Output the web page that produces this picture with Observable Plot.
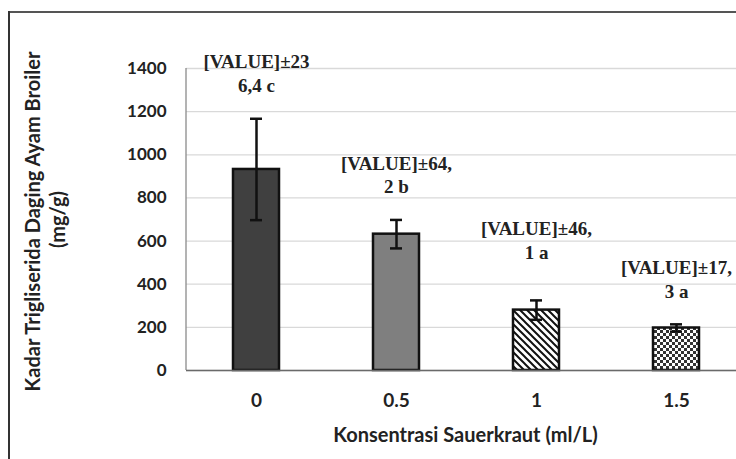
<!DOCTYPE html>
<html>
<head>
<meta charset="utf-8">
<script src="https://cdn.jsdelivr.net/npm/d3@7"></script>
<script src="https://cdn.jsdelivr.net/npm/@observablehq/plot@0.6"></script>
<style>
  html, body { margin: 0; padding: 0; background: #fff; overflow: hidden; }
  #wrap { position: relative; width: 736px; height: 459px; overflow: hidden; }
  svg.plot { overflow: hidden !important; display: block; }
</style>
</head>
<body>
<div id="wrap"></div>
<script>
const categories = ["0", "0.5", "1", "1.5"];
const means = [932, 632, 280, 197];
const errors = [235, 66, 45, 17];
const labelLine1 = ["[VALUE]±23", "[VALUE]±64,", "[VALUE]±46,", "[VALUE]±17,"];
const labelLine2 = ["6,4 c", "2 b", "1 a", "3 a"];
const yTicks = [0, 200, 400, 600, 800, 1000, 1200, 1400];
const yTitle = "Kadar Trigliserida Daging Ayam Broiler";
const yUnit = "(mg/g)";
const xTitle = "Konsentrasi Sauerkraut (ml/L)";

const data = categories.map((c, i) => ({
  cat: c, mean: means[i], err: errors[i],
  lo: means[i] - errors[i], hi: means[i] + errors[i],
  label: labelLine1[i] + "\n" + labelLine2[i]
}));

const fills = ["#404040", "#7f7f7f", "url(#hatch)", "url(#checker)"];

const defs = () => {
  const svg = d3.create("svg:g");
  const d = svg.append("defs");
  const h = d.append("pattern").attr("id", "hatch").attr("patternUnits", "userSpaceOnUse")
    .attr("width", 7).attr("height", 7);
  h.append("rect").attr("width", 7).attr("height", 7).attr("fill", "#fff");
  h.append("path").attr("d", "M0,0L7,7M-1,6L1,8M6,-1L8,1")
    .attr("stroke", "#111").attr("stroke-width", 2);
  const c = d.append("pattern").attr("id", "checker").attr("patternUnits", "userSpaceOnUse")
    .attr("width", 6).attr("height", 6);
  c.append("rect").attr("width", 6).attr("height", 6).attr("fill", "#fff");
  c.append("rect").attr("width", 3).attr("height", 3).attr("fill", "#333");
  c.append("rect").attr("x", 3).attr("y", 3).attr("width", 3).attr("height", 3).attr("fill", "#333");
  return svg.node();
};

// outer chart-area border (top and left edges visible)
const outerFrame = (index, scales, values, dims) => {
  const g = d3.create("svg:g");
  g.append("rect").attr("x", 8).attr("y", 11).attr("width", dims.width).attr("height", 2).attr("fill", "#555");
  g.append("rect").attr("x", 8).attr("y", 11).attr("width", 2).attr("height", dims.height).attr("fill", "#333");
  return g.node();
};

// left axis line drawn from the y scale
const leftLine = (index, scales, values, dims) => {
  const g = d3.create("svg:g");
  g.append("line")
    .attr("x1", dims.marginLeft).attr("x2", dims.marginLeft)
    .attr("y1", scales.y(yTicks[0])).attr("y2", scales.y(yTicks[yTicks.length - 1]))
    .attr("stroke", "#8a8a8a").attr("stroke-width", 1.3);
  return g.node();
};

const sans = "Lato, 'Open Sans', sans-serif";
const serif = "'Liberation Serif', 'DejaVu Serif', serif";

const plot = Plot.plot({
  width: 736,
  height: 459,
  marginLeft: 186,
  marginRight: 0,
  marginTop: 68,
  marginBottom: 89,
  style: { background: "#fff", fontFamily: sans },
  x: { domain: categories, range: [186, 747], paddingInner: 0.67, paddingOuter: 0.335, label: null },
  y: { domain: [0, 1400], label: null },
  color: { type: "ordinal", domain: categories, range: fills },
  marks: [
    defs,
    outerFrame,
    Plot.gridY(yTicks, { stroke: "#d9d9d9", strokeOpacity: 1, strokeWidth: 1.3 }),
    leftLine,
    Plot.axisY(yTicks, { tickSize: 0, tickPadding: 20, fontSize: 17, fontWeight: "bold", fill: "#222",
      tickFormat: d3.format("d"), label: null }),
    Plot.axisX(categories, { tickSize: 0, tickPadding: 23, fontSize: 19, fontWeight: "bold", fill: "#222", label: null }),
    Plot.barY(data, { x: "cat", y: "mean", fill: "cat", stroke: "#111", strokeWidth: 2.5 }),
    Plot.ruleY([0], { stroke: "#6a6a6a", strokeWidth: 1.5 }),
    Plot.ruleX(data, { x: "cat", y1: "lo", y2: "hi", stroke: "#111", strokeWidth: 2.5 }),
    Plot.tickY(data, { x: "cat", y: "hi", stroke: "#111", strokeWidth: 2.5, insetLeft: 17, insetRight: 17 }),
    Plot.tickY(data, { x: "cat", y: "lo", stroke: "#111", strokeWidth: 2.5, insetLeft: 17, insetRight: 17 }),
    Plot.text(data.filter(d => d.cat !== "1"), { x: "cat", y: "hi", text: "label", dy: -46, fontFamily: serif,
      fontWeight: "bold", fontSize: 19, lineHeight: 1.25, fill: "#222" }),
    Plot.text(data.filter(d => d.cat === "1"), { x: "cat", y: "hi", text: "label", dy: -61, fontFamily: serif,
      fontWeight: "bold", fontSize: 19, lineHeight: 1.25, fill: "#222" }),
    Plot.text([yTitle], { frameAnchor: "left", textAnchor: "middle", rotate: -90, dx: -153, dy: 2, fontSize: 20,
      fontWeight: "bold", fill: "#222" }),
    Plot.text([yUnit], { frameAnchor: "left", textAnchor: "middle", rotate: -90, dx: -128, dy: 0, fontSize: 20,
      fontWeight: "bold", fill: "#222" }),
    Plot.text([xTitle], { frameAnchor: "bottom", textAnchor: "middle", dx: 465 - (186 + 736) / 2, dy: 71, fontSize: 20,
      fontWeight: "bold", fill: "#222" })
  ]
});
document.getElementById("wrap").appendChild(plot);
</script>
</body>
</html>
